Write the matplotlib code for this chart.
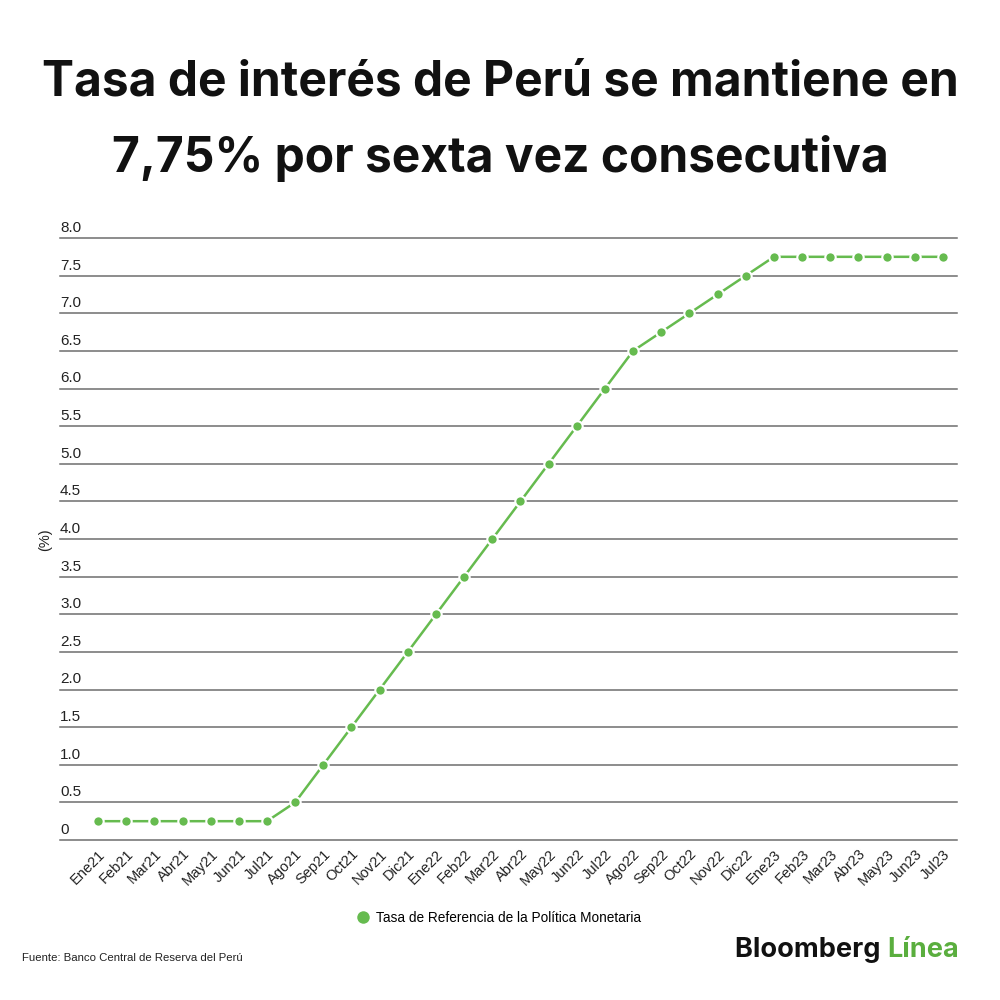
import matplotlib
matplotlib.use("Agg")
import matplotlib.pyplot as plt
import matplotlib.transforms as mtransforms

months = ["Ene21", "Feb21", "Mar21", "Abr21", "May21", "Jun21", "Jul21", "Ago21",
          "Sep21", "Oct21", "Nov21", "Dic21", "Ene22", "Feb22", "Mar22", "Abr22",
          "May22", "Jun22", "Jul22", "Ago22", "Sep22", "Oct22", "Nov22", "Dic22",
          "Ene23", "Feb23", "Mar23", "Abr23", "May23", "Jun23", "Jul23"]
rate = [0.25, 0.25, 0.25, 0.25, 0.25, 0.25, 0.25, 0.5,
        1.0, 1.5, 2.0, 2.5, 3.0, 3.5, 4.0, 4.5,
        5.0, 5.5, 6.0, 6.5, 6.75, 7.0, 7.25, 7.5,
        7.75, 7.75, 7.75, 7.75, 7.75, 7.75, 7.75]
yticks = [0, 0.5, 1.0, 1.5, 2.0, 2.5, 3.0, 3.5, 4.0, 4.5, 5.0, 5.5, 6.0, 6.5, 7.0, 7.5, 8.0]
ylabels = ["0"] + [f"{v:.1f}" for v in yticks[1:]]

GREEN = "#66bb4f"
TEXT = "#222222"
GRID = "#6e6e6e"
TITLE_FONT = ["Inter", "DejaVu Sans"]
plt.rcParams["font.family"] = ["Liberation Sans", "DejaVu Sans"]

fig = plt.figure(figsize=(10, 10), dpi=100)
ax = fig.add_axes([0.06, 0.16, 0.897, 0.602])

x = list(range(len(months)))
ax.plot(x, rate, color=GREEN, lw=1.8, marker="o", ms=7.5,
        markeredgecolor="white", markeredgewidth=1.5, zorder=3,
        label="Tasa de Referencia de la Política Monetaria")

ax.set_xlim(-1.35, 30.5)
ax.set_ylim(0, 8)
for v in yticks:
    ax.axhline(v, color=GRID, lw=1.1, zorder=1, clip_on=False)

# y labels sit just above each gridline
trans = mtransforms.blended_transform_factory(ax.transAxes, ax.transData)
for v, lab in zip(yticks, ylabels):
    ax.text(0.0, v + 0.04, lab, transform=trans, ha="left", va="bottom",
            fontsize=11, color=TEXT)

ax.set_yticks([])
ax.set_xticks(x)
ax.set_xticklabels(months, rotation=45, ha="right", rotation_mode="anchor",
                   fontsize=10.5, color=TEXT)
ax.tick_params(axis="x", length=0, pad=5)
for s in ax.spines.values():
    s.set_visible(False)

fig.text(0.045, 0.46, "(%)", rotation=90, ha="center", va="center",
         fontsize=10.5, color=TEXT)

fig.text(0.5, 0.918, "Tasa de interés de Perú se mantiene en", ha="center",
         va="center", fontsize=34.5, fontweight="bold", family=TITLE_FONT,
         color="#111111")
fig.text(0.5, 0.842, "7,75% por sexta vez consecutiva", ha="center",
         va="center", fontsize=34.5, fontweight="bold", family=TITLE_FONT,
         color="#111111")

leg = fig.legend(loc="center", bbox_to_anchor=(0.5, 0.082), frameon=False,
                 fontsize=9.8, handlelength=0.6, handletextpad=0.7, markerscale=1.4)
for h in leg.legend_handles:
    h.set_linestyle("none")

fig.text(0.022, 0.042, "Fuente: Banco Central de Reserva del Perú", ha="left",
         va="center", fontsize=8.2, color=TEXT)
logo = fig.text(0.735, 0.05, "Bloomberg ", ha="left", va="center", fontsize=19.5,
                fontweight="bold", family=TITLE_FONT, color="#111111")
fig.canvas.draw()
bb = logo.get_window_extent()
fig.text(bb.x1 / fig.bbox.width, 0.05, "Línea", ha="left", va="center",
         fontsize=19.5, fontweight="bold", family=TITLE_FONT, color="#5aae3e")

fig.savefig("out.png", dpi=100)
